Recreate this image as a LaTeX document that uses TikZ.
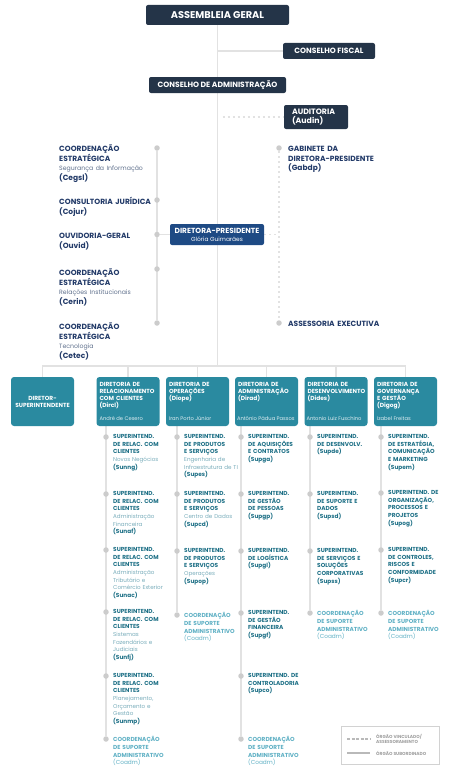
\documentclass[tikz,border=0pt]{standalone}
\usepackage{fontspec}
\setmainfont{Poppins}
\usetikzlibrary{positioning, backgrounds}

\definecolor{navy}{RGB}{36,52,72}
\definecolor{presblue}{RGB}{30,74,132}
\definecolor{dirteal}{RGB}{42,138,160}
\definecolor{navytext}{RGB}{34,58,104}
\definecolor{navysub}{RGB}{95,112,140}
\definecolor{unittext}{RGB}{30,112,134}
\definecolor{unitsub}{RGB}{120,172,186}
\definecolor{coadmtext}{RGB}{95,176,196}
\definecolor{linegray}{RGB}{226,226,226}
\definecolor{dotgray}{RGB}{204,204,204}

\newcommand{\ttl}[1]{{\bfseries\fontsize{5.8}{7.6}\selectfont #1}}
\newcommand{\subt}[1]{{\mdseries\color{unitsub}#1}}
\newcommand{\stsub}[1]{{\mdseries\color{navysub}\fontsize{6.2}{8.6}\selectfont #1}}

\begin{document}
\begin{tikzpicture}[
    x=1pt, y=-1pt,
    topbox/.style = {rectangle, fill=navy, text=white, font=\bfseries\fontsize{7.6}{9}\selectfont, rounded corners=2pt, inner sep=0pt},
    presbox/.style = {topbox, fill=presblue, align=center, font=\bfseries\fontsize{7.4}{8.2}\selectfont},
    dirbox/.style = {rectangle, fill=dirteal, rounded corners=3pt, minimum width=63pt, minimum height=49pt, inner sep=0pt},
    dirtitle/.style = {anchor=north west, inner sep=0pt, text=white, text width=62pt, align=left, font=\bfseries\fontsize{5.9}{7}\selectfont},
    dirname/.style = {anchor=base west, inner sep=0pt, text=white!85!dirteal, font=\fontsize{5.2}{7}\selectfont},
    dot/.style = {circle, fill=dotgray, inner sep=0pt, minimum size=5.5pt},
    unit/.style = {anchor=north west, inner sep=0pt, text width=66pt, align=left, text=unittext, font=\fontsize{5.6}{7.6}\selectfont},
    coadm/.style = {unit, text=coadmtext, font=\bfseries\fontsize{5.8}{7.6}\selectfont},
    staff/.style = {anchor=north west, inner sep=0pt, text width=120pt, align=left, text=navytext, font=\bfseries\fontsize{7.5}{9.5}\selectfont},
    link/.style = {draw=linegray, line width=1.2pt},
    tie/.style = {link, dash pattern=on 2pt off 3pt},
    keyline/.style = {draw=gray!55, line width=1.2pt},
    keytext/.style = {anchor=west, inner sep=0pt, align=left, text=gray!75, font=\bfseries\fontsize{4.4}{5.4}\selectfont}
]
    \useasboundingbox (0,0) rectangle (462,768);

    % Top boxes
    \node [topbox, minimum width=143pt, minimum height=20pt, font=\bfseries\fontsize{9.8}{11}\selectfont] (asm) at (217.5,15) {ASSEMBLEIA GERAL};
    \node [topbox, minimum width=92pt, minimum height=16pt] (fiscal) at (329,51) {CONSELHO FISCAL};
    \node [topbox, minimum width=137pt, minimum height=16pt] (consad) at (217.5,85) {CONSELHO DE ADMINISTRAÇÃO};
    \node [topbox, minimum width=64pt, minimum height=24pt, text width=48pt, align=left, font=\bfseries\fontsize{7.8}{9.6}\selectfont] (audin) at (316,117) {AUDITORIA\\(Audin)};
    \node [presbox, minimum width=94pt, minimum height=21pt] (dirpres) at (217,234.5) {DIRETORA-PRESIDENTE\\{\mdseries\fontsize{5.9}{6.5}\selectfont Glória Guimarães}};
    \coordinate (bus) at (217.5,366);

    % Left staff units
    \node [dot] (cegsl) at (157,148) {};
    \node [dot] (cojur) at (157,200) {};
    \node [dot] (ouvid) at (157,234.5) {};
    \node [dot] (cerin) at (157,269) {};
    \node [dot] (cetec) at (157,323) {};
    \node [staff] (cegsltext) at (59,145) {COORDENAÇÃO\\ESTRATÉGICA\\\stsub{Segurança da Informação}\\(Cegsl)};
    \node [staff] (cojurtext) at (59,197) {CONSULTORIA JURÍDICA\\(Cojur)};
    \node [staff] (ouvidtext) at (59,233) {OUVIDORIA-GERAL\\(Ouvid)};
    \node [staff] (cerintext) at (59,269) {COORDENAÇÃO\\ESTRATÉGICA\\\stsub{Relações Institucionais}\\(Cerin)};
    \node [staff] (cetectext) at (59,323) {COORDENAÇÃO\\ESTRATÉGICA\\\stsub{Tecnologia}\\(Cetec)};

    % Right staff units
    \node [dot] (gabdp) at (279,148) {};
    \node [dot] (asexec) at (279,323) {};
    \node [staff] (gabdptext) at (288,146) {GABINETE DA\\DIRETORA-PRESIDENTE\\(Gabdp)};
    \node [staff] (asexectext) at (288,321) {ASSESSORIA EXECUTIVA};

    % Directorates
    \node [dirbox, align=center, text=white, font=\bfseries\fontsize{5.9}{7}\selectfont] (dsup) at (42.5,401.5) {DIRETOR-\\SUPERINTENDENTE};
    \node [dirbox] (dircl) at (128,401.5) {};
    \node [dirbox] (diope) at (197.5,401.5) {};
    \node [dirbox] (dirad) at (266.5,401.5) {};
    \node [dirbox] (dides) at (336,401.5) {};
    \node [dirbox] (digog) at (405.5,401.5) {};
    \node [dirtitle] (dircltitle) at ([xshift=3pt,yshift=-5pt]dircl.north west) {DIRETORIA DE\\RELACIONAMENTO\\COM CLIENTES\\(Dircl)};
    \node [dirtitle] (diopetitle) at ([xshift=3pt,yshift=-5pt]diope.north west) {DIRETORIA DE\\OPERAÇÕES\\(Diope)};
    \node [dirtitle] (diradtitle) at ([xshift=3pt,yshift=-5pt]dirad.north west) {DIRETORIA DE\\ADMINISTRAÇÃO\\(Dirad)};
    \node [dirtitle] (didestitle) at ([xshift=3pt,yshift=-5pt]dides.north west) {DIRETORIA DE\\DESENVOLVIMENTO\\(Dides)};
    \node [dirtitle] (digogtitle) at ([xshift=3pt,yshift=-5pt]digog.north west) {DIRETORIA DE\\GOVERNANÇA\\E GESTÃO\\(Digog)};
    \node [dirname] (dirclname) at ([xshift=3pt,yshift=6pt]dircl.south west) {André de Cesero};
    \node [dirname] (diopename) at ([xshift=3pt,yshift=6pt]diope.south west) {Iran Porto Júnior};
    \node [dirname] (diradname) at ([xshift=2pt,yshift=6pt]dirad.south west) {Antônio Pádua Passos};
    \node [dirname] (didesname) at ([xshift=2pt,yshift=6pt]dides.south west) {Antonio Luiz Fuschino};
    \node [dirname] (digogname) at ([xshift=3pt,yshift=6pt]digog.south west) {Izabel Freitas};

    % Dircl column
    \node [dot] (sunng) at (106,437) {};
    \node [dot] (sunaf) at (106,494) {};
    \node [dot] (sunac) at (106,550) {};
    \node [dot] (sunfj) at (106,612) {};
    \node [dot] (sunmp) at (106,676) {};
    \node [dot] (dirclcoadm) at (106,739) {};
    \node [unit] (sunngtext) at ([xshift=7pt,yshift=2.6pt]sunng.center) {\ttl{SUPERINTEND.\\DE RELAC. COM\\CLIENTES}\\\subt{Novos Negócios}\\\ttl{(Sunng)}};
    \node [unit] (sunaftext) at ([xshift=7pt,yshift=2.6pt]sunaf.center) {\ttl{SUPERINTEND.\\DE RELAC. COM\\CLIENTES}\\\subt{Administração\\Financeira}\\\ttl{(Sunaf)}};
    \node [unit] (sunactext) at ([xshift=7pt,yshift=2.6pt]sunac.center) {\ttl{SUPERINTEND.\\DE RELAC. COM\\CLIENTES}\\\subt{Administração\\Tributário e\\Comércio Exterior}\\\ttl{(Sunac)}};
    \node [unit] (sunfjtext) at ([xshift=7pt,yshift=2.6pt]sunfj.center) {\ttl{SUPERINTEND.\\DE RELAC. COM\\CLIENTES}\\\subt{Sistemas\\Fazendários e\\Judiciais}\\\ttl{(Sunfj)}};
    \node [unit] (sunmptext) at ([xshift=7pt,yshift=2.6pt]sunmp.center) {\ttl{SUPERINTEND.\\DE RELAC. COM\\CLIENTES}\\\subt{Planejamento,\\Orçamento e\\Gestão}\\\ttl{(Sunmp)}};
    \node [coadm] (dirclcoadmtext) at ([xshift=7pt,yshift=2.6pt]dirclcoadm.center) {COORDENAÇÃO\\DE SUPORTE\\ADMINISTRATIVO\\{\mdseries(Coadm)}};

    % Diope column
    \node [dot] (supes) at (177,437) {};
    \node [dot] (supcd) at (177,494) {};
    \node [dot] (supop) at (177,551) {};
    \node [dot] (diopecoadm) at (177,615) {};
    \node [unit] (supestext) at ([xshift=7pt,yshift=2.6pt]supes.center) {\ttl{SUPERINTEND.\\DE PRODUTOS\\E SERVIÇOS}\\\subt{Engenharia de\\Infraestrutura de TI}\\\ttl{(Supes)}};
    \node [unit] (supcdtext) at ([xshift=7pt,yshift=2.6pt]supcd.center) {\ttl{SUPERINTEND.\\DE PRODUTOS\\E SERVIÇOS}\\\subt{Centro de Dados}\\\ttl{(Supcd)}};
    \node [unit] (supoptext) at ([xshift=7pt,yshift=2.6pt]supop.center) {\ttl{SUPERINTEND.\\DE PRODUTOS\\E SERVIÇOS}\\\subt{Operações}\\\ttl{(Supop)}};
    \node [coadm] (diopecoadmtext) at ([xshift=7pt,yshift=2.6pt]diopecoadm.center) {COORDENAÇÃO\\DE SUPORTE\\ADMINISTRATIVO\\{\mdseries(Coadm)}};

    % Dirad column
    \node [dot] (supga) at (241,437) {};
    \node [dot] (supgp) at (241,494) {};
    \node [dot] (supgl) at (241,551) {};
    \node [dot] (supgf) at (241,613) {};
    \node [dot] (supco) at (241,676) {};
    \node [dot] (diradcoadm) at (241,739) {};
    \node [unit] (supgatext) at ([xshift=7pt,yshift=2.6pt]supga.center) {\ttl{SUPERINTEND.\\DE AQUISIÇÕES\\E CONTRATOS\\(Supga)}};
    \node [unit] (supgptext) at ([xshift=7pt,yshift=2.6pt]supgp.center) {\ttl{SUPERINTEND.\\DE GESTÃO\\DE PESSOAS\\(Supgp)}};
    \node [unit] (supgltext) at ([xshift=7pt,yshift=2.6pt]supgl.center) {\ttl{SUPERINTEND.\\DE LOGÍSTICA\\(Supgl)}};
    \node [unit] (supgftext) at ([xshift=7pt,yshift=2.6pt]supgf.center) {\ttl{SUPERINTEND.\\DE GESTÃO\\FINANCEIRA\\(Supgf)}};
    \node [unit] (supcotext) at ([xshift=7pt,yshift=2.6pt]supco.center) {\ttl{SUPERINTEND. DE\\CONTROLADORIA\\(Supco)}};
    \node [coadm] (diradcoadmtext) at ([xshift=7pt,yshift=2.6pt]diradcoadm.center) {COORDENAÇÃO\\DE SUPORTE\\ADMINISTRATIVO\\{\mdseries(Coadm)}};

    % Dides column
    \node [dot] (supde) at (310,437) {};
    \node [dot] (supsd) at (310,494) {};
    \node [dot] (supss) at (310,551) {};
    \node [dot] (didescoadm) at (310,613) {};
    \node [unit] (supdetext) at ([xshift=7pt,yshift=2.6pt]supde.center) {\ttl{SUPERINTEND.\\DE DESENVOLV.\\(Supde)}};
    \node [unit] (supsdtext) at ([xshift=7pt,yshift=2.6pt]supsd.center) {\ttl{SUPERINTEND.\\DE SUPORTE E\\DADOS\\(Supsd)}};
    \node [unit] (supsstext) at ([xshift=7pt,yshift=2.6pt]supss.center) {\ttl{SUPERINTEND.\\DE SERVIÇOS E\\SOLUÇÕES\\CORPORATIVAS\\(Supss)}};
    \node [coadm] (didescoadmtext) at ([xshift=7pt,yshift=2.6pt]didescoadm.center) {COORDENAÇÃO\\DE SUPORTE\\ADMINISTRATIVO\\{\mdseries(Coadm)}};

    % Digog column
    \node [dot] (supem) at (381,437) {};
    \node [dot] (supog) at (381,493) {};
    \node [dot] (supcr) at (381,550) {};
    \node [dot] (digogcoadm) at (381,613) {};
    \node [unit] (supemtext) at ([xshift=7pt,yshift=2.6pt]supem.center) {\ttl{SUPERINTEND.\\DE ESTRATÉGIA,\\COMUNICAÇÃO\\E MARKETING\\(Supem)}};
    \node [unit] (supogtext) at ([xshift=7pt,yshift=2.6pt]supog.center) {\ttl{SUPERINTEND. DE\\ORGANIZAÇÃO,\\PROCESSOS E\\PROJETOS\\(Supog)}};
    \node [unit] (supcrtext) at ([xshift=7pt,yshift=2.6pt]supcr.center) {\ttl{SUPERINTEND.\\DE CONTROLES,\\RISCOS E\\CONFORMIDADE\\(Supcr)}};
    \node [coadm] (digogcoadmtext) at ([xshift=7pt,yshift=2.6pt]digogcoadm.center) {COORDENAÇÃO\\DE SUPORTE\\ADMINISTRATIVO\\{\mdseries(Coadm)}};

    % Legend
    \node [draw=gray!35, line width=0.6pt, minimum width=98pt, minimum height=38pt, inner sep=0pt] (legend) at (390,745) {};
    \coordinate (tiestart) at (347,739);
    \coordinate (tieend) at (370,739);
    \coordinate (linkstart) at (347,753);
    \coordinate (linkend) at (370,753);
    \node [keytext] (tiekey) at (376,739) {ÓRGÃO VINCULADO/\\ASSESSORAMENTO};
    \node [keytext] (linkkey) at (376,753) {ÓRGÃO SUBORDINADO};

    % Connectors
    \begin{pgfonlayer}{background}
        \draw [link] (asm) -- (bus);
        \draw [link] (asm.south |- fiscal.west) -- (fiscal.west);
        \draw [tie] ([xshift=5pt]asm.south |- audin.west) -- (audin.west);
        \draw [link] (cegsl) -- (cetec);
        \draw [link] (ouvid) -- (dirpres);
        \draw [tie] (gabdp) -- (asexec);
        \draw [tie] (dirpres.east) -- (dirpres.east -| gabdp);
        \draw [link] (dsup.north) |- (bus) -| (digog.north);
        \draw [link] (dircl.north) -- (dircl.north |- bus);
        \draw [link] (diope.north) -- (diope.north |- bus);
        \draw [link] (dirad.north) -- (dirad.north |- bus);
        \draw [link] (dides.north) -- (dides.north |- bus);
        \draw [link] (dircl.south -| sunng) -- (dirclcoadm);
        \draw [link] (diope.south -| supes) -- (diopecoadm);
        \draw [link] (dirad.south -| supga) -- (diradcoadm);
        \draw [link] (dides.south -| supde) -- (didescoadm);
        \draw [link] (digog.south -| supem) -- (digogcoadm);
        \draw [keyline, dash pattern=on 3pt off 1.5pt] (tiestart) -- (tieend);
        \draw [keyline] (linkstart) -- (linkend);
    \end{pgfonlayer}
\end{tikzpicture}
\end{document}
